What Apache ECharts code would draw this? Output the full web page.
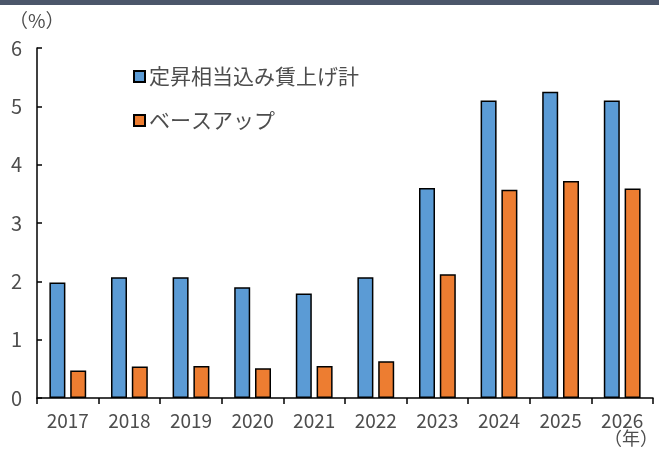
<!DOCTYPE html>
<html>
<head>
<meta charset="utf-8">
<script src="https://cdn.jsdelivr.net/npm/echarts@6/dist/echarts.min.js"></script>
<style>
  html, body { margin: 0; padding: 0; background: #fff; }
  #myChart { width: 659px; height: 450px; }
</style>
</head>
<body>
<div id="myChart"></div>
<script>
var years = ['2017', '2018', '2019', '2020', '2021', '2022', '2023', '2024', '2025', '2026'];
var totalRaise = [1.98, 2.07, 2.07, 1.90, 1.79, 2.07, 3.60, 5.10, 5.25, 5.10];
var baseUp = [0.47, 0.54, 0.55, 0.51, 0.55, 0.63, 2.12, 3.57, 3.72, 3.59];
var seriesNames = ['定昇相当込み賃上げ計', 'ベースアップ'];

var font = '"Noto Sans CJK JP", sans-serif';
var textColor = '#4d4d4d';
var myChart = echarts.init(document.getElementById('myChart'));

myChart.setOption(option = {
    animation: false,
    textStyle: { fontFamily: font },
    grid: { left: 37, right: 6, top: 48, bottom: 52 },
    graphic: [
        { type: 'rect', left: 0, top: 0, shape: { width: 659, height: 5 }, style: { fill: '#4b566a' } },
        { type: 'text', left: 9, top: 11, style: { text: '（%）', font: '19px ' + font, fill: textColor } },
        { type: 'text', left: 604, top: 429, style: { text: '（年）', font: '18px ' + font, fill: textColor } }
    ],
    legend: {
        orient: 'vertical',
        left: 128,
        top: 61,
        itemGap: 23,
        itemWidth: 11,
        itemHeight: 11,
        icon: 'rect',
        textStyle: { fontSize: 21, color: textColor, fontFamily: font, padding: [0, 0, 0, -1] },
        data: seriesNames
    },
    xAxis: {
        type: 'category',
        data: years,
        axisLine: { lineStyle: { color: '#000', width: 1.5 } },
        axisTick: { show: true, inside: false, length: 6, lineStyle: { color: '#000', width: 1.5 } },
        axisLabel: { fontSize: 19, color: textColor, margin: 13, fontFamily: font }
    },
    yAxis: {
        type: 'value',
        min: 0,
        max: 6,
        interval: 1,
        splitLine: { show: false },
        axisLine: { show: true, lineStyle: { color: '#000', width: 1.5 } },
        axisTick: { show: true, inside: true, length: 5, lineStyle: { color: '#000', width: 1.5 } },
        axisLabel: { fontSize: 20, color: textColor, margin: 15, fontFamily: font }
    },
    series: [{
        name: seriesNames[0],
        type: 'bar',
        data: totalRaise,
        barWidth: 16,
        barGap: '30%',
        itemStyle: { color: '#5b9bd5', borderColor: '#000', borderWidth: 1.5 }
    }, {
        name: seriesNames[1],
        type: 'bar',
        data: baseUp,
        barWidth: 16,
        itemStyle: { color: '#ed7d31', borderColor: '#000', borderWidth: 1.5 }
    }]
});

window.onresize = function () {
    myChart.resize();
};
</script>
</body>
</html>
